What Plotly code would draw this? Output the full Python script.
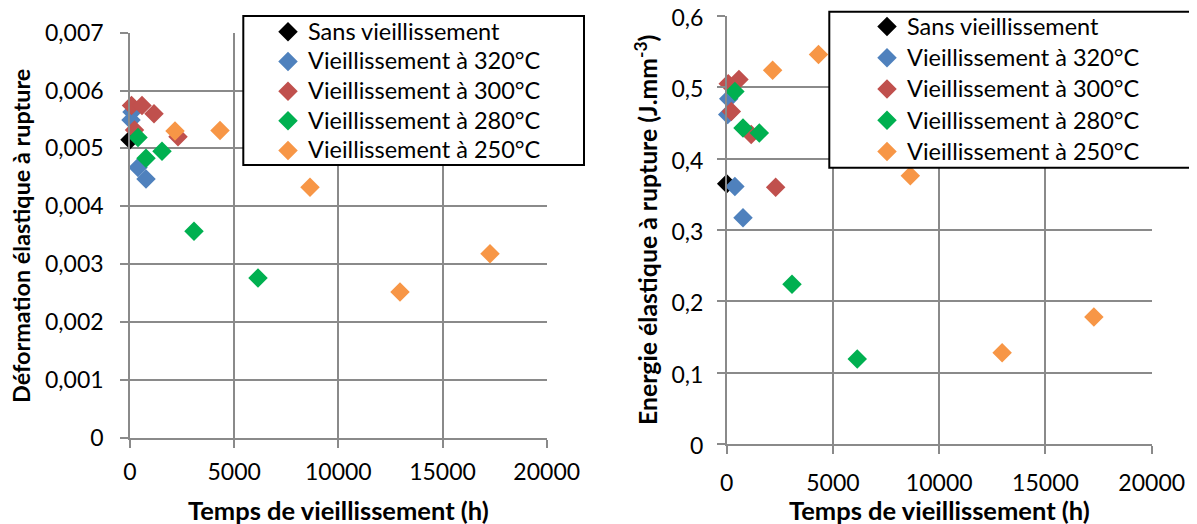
import plotly.graph_objects as go

# ---------------- data ----------------
series_names = ["Sans vieillissement", "Vieillissement à 320°C", "Vieillissement à 300°C",
                "Vieillissement à 280°C", "Vieillissement à 250°C"]
series_colors = ["#000000", "#4F81BD", "#C0504D", "#00B050", "#F79646"]

t_sans = [0]
def_sans = [0.00515]
en_sans = [0.365]

t_320 = [48, 96, 384, 768]
def_320 = [0.00549, 0.00563, 0.00467, 0.00447]
en_320 = [0.462, 0.484, 0.361, 0.317]

t_300 = [72, 216, 576, 1152, 2304]
def_300 = [0.00574, 0.00532, 0.00574, 0.00560, 0.00520]
en_300 = [0.505, 0.466, 0.511, 0.434, 0.360]

t_280 = [384, 768, 1536, 3072, 6144]
def_280 = [0.00519, 0.00483, 0.00495, 0.00357, 0.00276]
en_280 = [0.494, 0.443, 0.436, 0.224, 0.119]

t_250 = [2160, 4320, 8640, 12960, 17280]
def_250 = [0.00530, 0.00531, 0.00433, 0.00252, 0.00318]
en_250 = [0.524, 0.546, 0.376, 0.128, 0.178]

x_tickvals = [0, 5000, 10000, 15000, 20000]
x_ticktext = ["0", "5000", "10000", "15000", "20000"]
yl_tickvals = [0, 0.001, 0.002, 0.003, 0.004, 0.005, 0.006, 0.007]
yl_ticktext = ["0", "0,001", "0,002", "0,003", "0,004", "0,005", "0,006", "0,007"]
yr_tickvals = [0, 0.1, 0.2, 0.3, 0.4, 0.5, 0.6]
yr_ticktext = ["0", "0,1", "0,2", "0,3", "0,4", "0,5", "0,6"]

x_title = "Temps de vieillissement (h)"
yl_title = "Déformation élastique à rupture"
yr_title = "Energie élastique à rupture (J.mm<sup>-3</sup>)"

# ---------------- figure ----------------
W, H = 1197, 524
OFF = 8          # page body margin offset of the plot div
FONT = "Lato"
GRID = "#8a8a8a"
LEG_TXT = 23.5


def px_x(p):
    return (p - OFF) / W


def px_y(p):
    return 1 - (p - OFF) / H


def leg_name(s):
    return '<span style="font-size:%spx">%s</span>' % (LEG_TXT, s)


times = [t_sans, t_320, t_300, t_280, t_250]
left_vals = [def_sans, def_320, def_300, def_280, def_250]
right_vals = [en_sans, en_320, en_300, en_280, en_250]

fig = go.Figure()
for name, col, t, v in zip(series_names, series_colors, times, left_vals):
    fig.add_trace(go.Scatter(x=t, y=v, mode="markers", name=leg_name(name), xaxis="x", yaxis="y",
                             marker=dict(symbol="diamond", size=15, color=col),
                             cliponaxis=False, legend="legend"))
for name, col, t, v in zip(series_names, series_colors, times, right_vals):
    fig.add_trace(go.Scatter(x=t, y=v, mode="markers", name=leg_name(name), xaxis="x2", yaxis="y2",
                             marker=dict(symbol="diamond", size=15, color=col),
                             cliponaxis=False, legend="legend2"))

axis_common = dict(showgrid=True, gridcolor=GRID, gridwidth=1.6, showline=True,
                   linecolor=GRID, linewidth=1.6, zeroline=False, ticks="outside",
                   ticklen=8, tickcolor=GRID, tickwidth=1.6, automargin=False,
                   ticklabeloverflow="allow",
                   tickfont=dict(family=FONT, size=23, color="black"))

fig.update_layout(
    width=W, height=H,
    margin=dict(l=0, r=0, t=0, b=0, autoexpand=False),
    paper_bgcolor="white", plot_bgcolor="white",
    font=dict(family=FONT, color="black"),
    xaxis=dict(domain=[px_x(130), px_x(546.7)], range=[0, 20000], anchor="y",
               tickvals=x_tickvals, ticktext=x_ticktext, ticklabelstandoff=5, **axis_common),
    yaxis=dict(domain=[px_y(437.7), px_y(32.7)], range=[0, 0.007], anchor="x",
               tickvals=yl_tickvals, ticktext=yl_ticktext, ticklabelstandoff=12, **axis_common),
    xaxis2=dict(domain=[px_x(726.7), px_x(1151.7)], range=[0, 20000], anchor="y2",
                tickvals=x_tickvals, ticktext=x_ticktext, ticklabelstandoff=10, **axis_common),
    yaxis2=dict(domain=[px_y(444), px_y(16)], range=[0, 0.6], anchor="x2",
                tickvals=yr_tickvals, ticktext=yr_ticktext, ticklabelstandoff=9,
                ticklabelshift=2, **axis_common),
    legend=dict(x=px_x(268), y=px_y(12), xanchor="left", yanchor="top",
                bgcolor="rgba(0,0,0,0)", borderwidth=0,
                font=dict(family=FONT, size=20.5, color="black"), itemsizing="trace"),
    legend2=dict(x=px_x(867), y=px_y(6), xanchor="left", yanchor="top",
                 bgcolor="rgba(0,0,0,0)", borderwidth=0,
                 font=dict(family=FONT, size=21.7, color="black"), itemsizing="trace"),
    shapes=[
        dict(type="rect", xref="paper", yref="paper", x0=px_x(243.3), x1=px_x(584),
             y0=px_y(165), y1=px_y(16), fillcolor="white", line=dict(color="black", width=2),
             layer="above"),
        dict(type="rect", xref="paper", yref="paper", x0=px_x(829.3), x1=1.02,
             y0=px_y(167.7), y1=px_y(11.7), fillcolor="white", line=dict(color="black", width=2),
             layer="above"),
    ],
    annotations=[
        dict(text="<b>" + x_title + "</b>", xref="paper", yref="paper",
             x=px_x(338), y=px_y(510), showarrow=False, xanchor="center", yanchor="middle",
             font=dict(family=FONT, size=25.5)),
        dict(text="<b>" + yl_title + "</b>", xref="paper", yref="paper",
             x=px_x(21), y=px_y(236), showarrow=False, xanchor="center", yanchor="middle",
             textangle=-90, font=dict(family=FONT, size=23.4)),
        dict(text="<b>" + x_title + "</b>", xref="paper", yref="paper",
             x=px_x(939), y=px_y(510), showarrow=False, xanchor="center", yanchor="middle",
             font=dict(family=FONT, size=25.5)),
        dict(text="<b>" + yr_title + "</b>", xref="paper", yref="paper",
             x=px_x(646), y=px_y(230), showarrow=False, xanchor="center", yanchor="middle",
             textangle=-90, font=dict(family=FONT, size=24.8)),
    ],
)

fig.write_html("out.html")
